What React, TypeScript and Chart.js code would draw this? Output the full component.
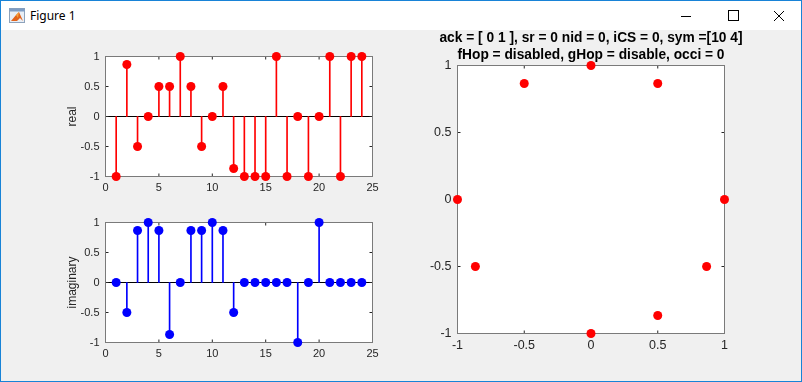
import React, { useEffect, useRef } from 'react';
import { Chart, registerables } from 'chart.js';

Chart.register(...registerables);

// ---------- data ----------
const sampleIndex = [1, 2, 3, 4, 5, 6, 7, 8, 9, 10, 11, 12, 13, 14, 15, 16, 17, 18, 19, 20, 21, 22, 23, 24];
const realValues = [-1, 0.866, -0.5, 0, 0.5, 0.5, 1, 0.5, -0.5, 0, 0.5, -0.866, -1, -1, -1, 1, -1, 0, -1, 0, 1, -1, 1, 1];
const imagValues = [0, -0.5, 0.866, 1, 0.866, -0.866, 0, 0.866, 0.866, 1, 0.866, -0.5, 0, 0, 0, 0, 0, -1, 0, 1, 0, 0, 0, 0];
const constellationX = [0, 0.5, -0.5, -1, 1, -0.866, 0.866, 0.5, 0];
const constellationY = [1, 0.866, 0.866, 0, 0, -0.5, -0.5, -0.866, -1];
const stemXTicks = [0, 5, 10, 15, 20, 25];
const unitTicks = [-1, -0.5, 0, 0.5, 1];
const titleLines = [
  'ack = [ 0 1 ], sr = 0 nid = 0, iCS = 0, sym =[10 4]',
  'fHop = disabled, gHop = disable, occi = 0',
];
const windowTitle = 'Figure 1';

const FONT = "'Liberation Sans', Arial, sans-serif";
const TICK_COLOR = '#262626';
const TITLE_SIZE = 13.75;

const matlabAxes = {
  id: 'matlabAxes',
  beforeDraw(chart: any) {
    const { ctx, chartArea: a } = chart;
    ctx.save();
    ctx.fillStyle = '#ffffff';
    ctx.fillRect(a.left, a.top, a.right - a.left, a.bottom - a.top);
    ctx.restore();
  },
  beforeDatasetsDraw(chart: any, _args: any, opts: any) {
    const { ctx, chartArea: a, scales } = chart;
    const xs = scales.x;
    const ys = scales.y;
    const L = 3;
    const line = (x1: number, y1: number, x2: number, y2: number) => {
      ctx.beginPath();
      ctx.moveTo(x1, y1);
      ctx.lineTo(x2, y2);
      ctx.stroke();
    };
    ctx.save();
    ctx.lineWidth = 1;
    if (opts && opts.baseline) {
      const py = ys.getPixelForValue(0);
      ctx.strokeStyle = '#000000';
      line(a.left, py, a.right, py);
    }
    ctx.strokeStyle = TICK_COLOR;
    for (const t of xs.ticks) {
      const px = xs.getPixelForValue(t.value);
      line(px, a.bottom, px, a.bottom - L);
      line(px, a.top, px, a.top + L);
    }
    for (const t of ys.ticks) {
      const py = ys.getPixelForValue(t.value);
      line(a.left, py, a.left + L, py);
      line(a.right, py, a.right - L, py);
    }
    ctx.strokeStyle = '#7a7a7a';
    ctx.strokeRect(a.left, a.top, a.right - a.left, a.bottom - a.top);
    ctx.restore();
  },
};

type Geo = {
  cl: number; ct: number; cw: number; ch: number; // canvas rect (page)
  L: number; R: number; T: number; B: number; // chart area (page)
  titleX?: number; // y title centre (page)
  tickSize: number;
  labelSize: number;
  xPad: number;
};

function buildConfig(geo: Geo, kind: 'real' | 'imag' | 'const') {
  const lh = geo.labelSize * 1.2;
  const padLeft = geo.titleX !== undefined ? geo.titleX - geo.cl - lh / 2 : 0;
  const yWidth = geo.L - geo.cl - padLeft;
  const padTop = geo.T - geo.ct;
  const padRight = geo.cl + geo.cw - geo.R;
  const xHeight = geo.ct + geo.ch - geo.B;
  const tickFont = { family: FONT, size: geo.tickSize };

  let datasets: any[] = [];
  let xMin = 0, xMax = 25, xTicks = stemXTicks;
  if (kind === 'const') {
    xMin = -1; xMax = 1; xTicks = unitTicks;
    datasets = [{
      type: 'scatter',
      data: constellationX.map((x, i) => ({ x, y: constellationY[i] })),
      pointRadius: 4.5,
      pointBackgroundColor: '#ff0000',
      pointBorderWidth: 0,
      showLine: false,
      clip: false,
    }];
  } else {
    const vals = kind === 'real' ? realValues : imagValues;
    const color = kind === 'real' ? '#ff0000' : '#0000ff';
    const pts = sampleIndex.map((n, i) => ({ x: n, y: vals[i] }));
    datasets = [
      {
        type: 'bar',
        data: pts,
        backgroundColor: color,
        borderWidth: 0,
        barThickness: 1,
        grouped: false,
        clip: false,
        order: 2,
      },
      {
        type: 'scatter',
        data: pts,
        pointRadius: 4.5,
        pointBackgroundColor: color,
        pointBorderWidth: 0,
        showLine: false,
        clip: false,
        order: 1,
      },
    ];
  }

  const yTitle = kind === 'real' ? 'real' : kind === 'imag' ? 'imaginary' : '';

  return {
    type: 'scatter',
    data: { datasets },
    plugins: [matlabAxes],
    options: {
      animation: false,
      responsive: false,
      events: [],
      layout: { padding: { left: padLeft, top: padTop, right: padRight, bottom: 0 } },
      plugins: {
        legend: { display: false },
        tooltip: { enabled: false },
        matlabAxes: { baseline: kind !== 'const' },
      },
      scales: {
        x: {
          type: 'linear',
          min: xMin,
          max: xMax,
          offset: false,
          afterBuildTicks: (s: any) => { s.ticks = xTicks.map((v) => ({ value: v })); },
          afterFit: (s: any) => { s.height = xHeight; },
          grid: { display: false, drawTicks: false },
          border: { display: false },
          ticks: {
            padding: geo.xPad,
            font: tickFont,
            color: TICK_COLOR,
            maxRotation: 0,
            autoSkip: false,
            callback: (v: any) => String(v),
          },
        },
        y: {
          type: 'linear',
          min: -1,
          max: 1,
          afterBuildTicks: (s: any) => { s.ticks = unitTicks.map((v) => ({ value: v })); },
          afterFit: (s: any) => { s.width = yWidth; },
          grid: { display: false, drawTicks: false },
          border: { display: false },
          title: {
            display: !!yTitle,
            text: yTitle,
            padding: 0,
            font: { family: FONT, size: geo.labelSize },
            color: TICK_COLOR,
          },
          ticks: {
            padding: 6,
            font: tickFont,
            color: TICK_COLOR,
            autoSkip: false,
            callback: (v: any) => String(v),
          },
        },
      },
    },
  };
}

const GEOS: Record<string, Geo> = {
  real: { cl: 30, ct: 35, cw: 360, ch: 165, L: 105.5, R: 372.5, T: 56.5, B: 176.5, titleX: 73, tickSize: 11, labelSize: 12, xPad: 5 },
  imag: { cl: 30, ct: 200, cw: 360, ch: 165, L: 105.5, R: 372.5, T: 222.5, B: 342.5, titleX: 73, tickSize: 11, labelSize: 12, xPad: 5 },
  const: { cl: 400, ct: 50, cw: 390, ch: 310, L: 457.5, R: 724.5, T: 65.5, B: 333.5, tickSize: 12.5, labelSize: 13.75, xPad: 5 },
};

function ChartCanvas({ kind }: { kind: 'real' | 'imag' | 'const' }) {
  const ref = useRef<HTMLCanvasElement | null>(null);
  const geo = GEOS[kind];
  useEffect(() => {
    if (!ref.current) return;
    const chart = new Chart(ref.current, buildConfig(geo, kind) as any);
    return () => chart.destroy();
  }, []);
  return (
    <canvas
      ref={ref}
      width={geo.cw}
      height={geo.ch}
      style={{ position: 'absolute', left: geo.cl, top: geo.ct, width: geo.cw, height: geo.ch }}
    />
  );
}

export default function App() {
  return (
    <div
      style={{
        position: 'fixed',
        left: 0,
        top: 0,
        width: 802,
        height: 382,
        background: '#f0f0f0',
        overflow: 'hidden',
        boxSizing: 'border-box',
        fontFamily: FONT,
      }}
    >
      {/* title bar */}
      <div style={{ position: 'absolute', left: 0, top: 0, width: 802, height: 30, background: '#ffffff' }} />
      <svg width={802} height={30} style={{ position: 'absolute', left: 0, top: 0 }}>
        <rect x={9.5} y={8.5} width={15} height={14} fill="#e8eef5" stroke="#8da2bb" />
        <rect x={9.5} y={8.5} width={15} height={3} fill="#7d9cc4" />
        <polygon points="11,21 16,15 19,12 23,21 20,18 17,21" fill="#e2631b" />
        <polygon points="16,15 19,12 18,18" fill="#f4a23b" />
        <line x1={681} y1={16.5} x2={691} y2={16.5} stroke="#000" strokeWidth={1} />
        <rect x={728.5} y={10.5} width={10} height={10} fill="none" stroke="#000" strokeWidth={1} />
        <line x1={774} y1={11} x2={784} y2={21} stroke="#000" strokeWidth={1} />
        <line x1={784} y1={11} x2={774} y2={21} stroke="#000" strokeWidth={1} />
      </svg>
      <div
        style={{
          position: 'absolute',
          left: 30,
          top: 8,
          fontSize: 12,
          lineHeight: '16px',
          color: '#000',
          fontFamily: "'Noto Sans', 'Liberation Sans', sans-serif",
          whiteSpace: 'nowrap',
        }}
      >
        {windowTitle}
      </div>

      <ChartCanvas kind="real" />
      <ChartCanvas kind="imag" />
      <ChartCanvas kind="const" />

      <div
        style={{
          position: 'absolute',
          left: 391,
          top: 29,
          width: 400,
          textAlign: 'center',
          fontWeight: 'bold',
          fontSize: TITLE_SIZE,
          lineHeight: '17px',
          color: '#000',
          whiteSpace: 'nowrap',
        }}
      >
        {titleLines.map((t, i) => (
          <div key={i}>{t}</div>
        ))}
      </div>

      {/* window border */}
      <div
        style={{
          position: 'absolute',
          left: 0,
          top: 0,
          width: 802,
          height: 382,
          boxSizing: 'border-box',
          border: '1px solid #1883d7',
          pointerEvents: 'none',
        }}
      />
    </div>
  );
}
